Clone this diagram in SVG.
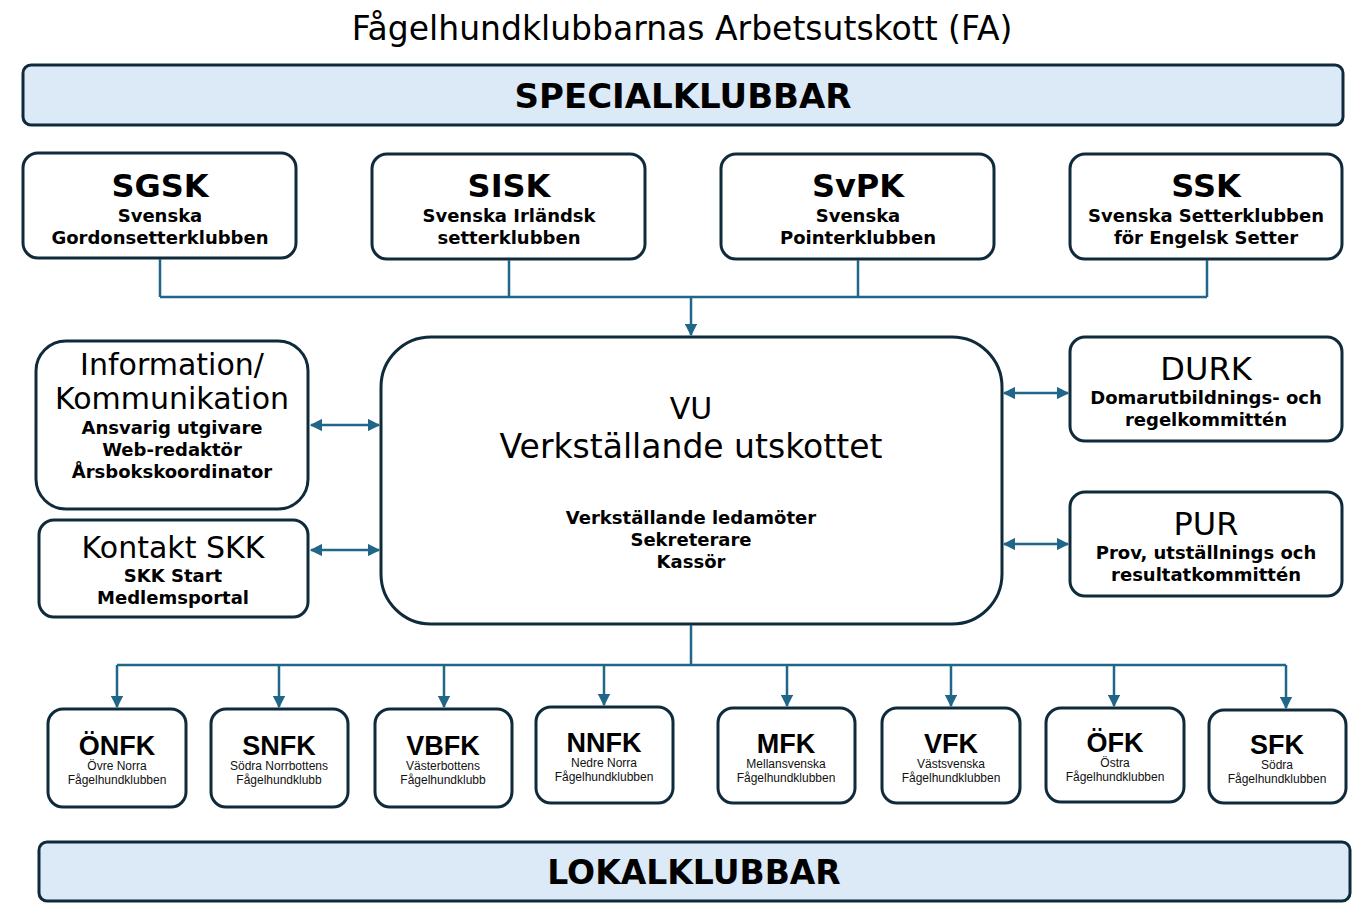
<svg xmlns="http://www.w3.org/2000/svg" width="1361" height="910" viewBox="0 0 1361 910">
<defs>
<style>
.box{fill:#ffffff;stroke:#0e2a3b;stroke-width:3}
.band{fill:#dce9f6;stroke:#0e2a3b;stroke-width:3}
.t{font-family:"DejaVu Sans",Verdana,sans-serif;fill:#000;text-anchor:middle}
.b{font-weight:bold}
.big{font-size:32px}
.mid{font-size:30px}
.sub{font-size:18px;font-weight:bold}
.lt{font-family:"Liberation Sans",Arial,sans-serif;font-weight:bold;font-size:27px;text-anchor:middle;fill:#000}
.ls{font-family:"Liberation Sans",Arial,sans-serif;font-size:12px;text-anchor:middle;fill:#111}
.c{fill:none;stroke:#1f6689;stroke-width:2.5}
</style>
<marker id="ah" viewBox="0 0 10 10" refX="9" refY="5" markerWidth="5" markerHeight="5" orient="auto-start-reverse" markerUnits="strokeWidth">
<path d="M0,0 L10,5 L0,10 z" fill="#1f6689"/>
</marker>
</defs>
<rect width="1361" height="910" fill="#ffffff"/>
<text class="t" x="682" y="40" font-size="33">Fågelhundklubbarnas Arbetsutskott (FA)</text>

<g id="specialklubbar">
<rect class="band" x="23" y="65" width="1320" height="60" rx="8"/>
<text class="t b" font-size="34" x="683" y="108">SPECIALKLUBBAR</text>
</g>

<g id="sgsk">
<rect class="box" x="23" y="153" width="273" height="105" rx="15"/>
<text class="t b big" x="160" y="197">SGSK</text>
<text class="t sub" x="160" y="222">Svenska</text>
<text class="t sub" x="160" y="244">Gordonsetterklubben</text>
</g>
<g id="sisk">
<rect class="box" x="372" y="154" width="273" height="105" rx="15"/>
<text class="t b big" x="509" y="197">SISK</text>
<text class="t sub" x="509" y="222">Svenska Irländsk</text>
<text class="t sub" x="509" y="244">setterklubben</text>
</g>
<g id="svpk">
<rect class="box" x="721" y="154" width="273" height="105" rx="15"/>
<text class="t b big" x="858" y="197">SvPK</text>
<text class="t sub" x="858" y="222">Svenska</text>
<text class="t sub" x="858" y="244">Pointerklubben</text>
</g>
<g id="ssk">
<rect class="box" x="1070" y="154" width="272" height="105" rx="15"/>
<text class="t b big" x="1206" y="197">SSK</text>
<text class="t sub" x="1206" y="222">Svenska Setterklubben</text>
<text class="t sub" x="1206" y="244">för Engelsk Setter</text>
</g>

<g id="info">
<rect class="box" x="36" y="341" width="272" height="168" rx="30"/>
<text class="t mid" x="172" y="375">Information/</text>
<text class="t mid" x="172" y="409">Kommunikation</text>
<text class="t sub" x="172" y="434">Ansvarig utgivare</text>
<text class="t sub" x="172" y="456">Web-redaktör</text>
<text class="t sub" x="172" y="478">Årsbokskoordinator</text>
</g>
<g id="kontakt">
<rect class="box" x="39" y="520" width="269" height="97" rx="15"/>
<text class="t mid" x="173" y="558">Kontakt SKK</text>
<text class="t sub" x="173" y="582">SKK Start</text>
<text class="t sub" x="173" y="604">Medlemsportal</text>
</g>

<g id="vu">
<rect class="box" x="381" y="337" width="621" height="287" rx="50"/>
<text class="t mid" x="691" y="419">VU</text>
<text class="t" font-size="33" x="691" y="458">Verkställande utskottet</text>
<text class="t sub" x="691" y="524">Verkställande ledamöter</text>
<text class="t sub" x="691" y="546">Sekreterare</text>
<text class="t sub" x="691" y="568">Kassör</text>
</g>

<g id="durk">
<rect class="box" x="1070" y="337" width="272" height="104" rx="15"/>
<text class="t big" x="1206" y="380">DURK</text>
<text class="t sub" x="1206" y="404">Domarutbildnings- och</text>
<text class="t sub" x="1206" y="426">regelkommittén</text>
</g>
<g id="pur">
<rect class="box" x="1070" y="492" width="272" height="104" rx="15"/>
<text class="t big" x="1206" y="535">PUR</text>
<text class="t sub" x="1206" y="559">Prov, utställnings och</text>
<text class="t sub" x="1206" y="581">resultatkommittén</text>
</g>

<g id="onfk">
<rect class="box" x="48" y="709" width="138" height="98" rx="15"/>
<text class="lt" x="117" y="755">ÖNFK</text>
<text class="ls" x="117" y="770">Övre Norra</text>
<text class="ls" x="117" y="784">Fågelhundklubben</text>
</g>
<g id="snfk">
<rect class="box" x="211" y="709" width="137" height="98" rx="15"/>
<text class="lt" x="279" y="755">SNFK</text>
<text class="ls" x="279" y="770">Södra Norrbottens</text>
<text class="ls" x="279" y="784">Fågelhundklubb</text>
</g>
<g id="vbfk">
<rect class="box" x="375" y="709" width="137" height="98" rx="15"/>
<text class="lt" x="443" y="755">VBFK</text>
<text class="ls" x="443" y="770">Västerbottens</text>
<text class="ls" x="443" y="784">Fågelhundklubb</text>
</g>
<g id="nnfk">
<rect class="box" x="536" y="707" width="137" height="96" rx="15"/>
<text class="lt" x="604" y="752">NNFK</text>
<text class="ls" x="604" y="767">Nedre Norra</text>
<text class="ls" x="604" y="781">Fågelhundklubben</text>
</g>
<g id="mfk">
<rect class="box" x="718" y="708" width="137" height="95" rx="15"/>
<text class="lt" x="786" y="753">MFK</text>
<text class="ls" x="786" y="768">Mellansvenska</text>
<text class="ls" x="786" y="782">Fågelhundklubben</text>
</g>
<g id="vfk">
<rect class="box" x="882" y="708" width="138" height="95" rx="15"/>
<text class="lt" x="951" y="753">VFK</text>
<text class="ls" x="951" y="768">Västsvenska</text>
<text class="ls" x="951" y="782">Fågelhundklubben</text>
</g>
<g id="ofk">
<rect class="box" x="1046" y="708" width="138" height="94" rx="15"/>
<text class="lt" x="1115" y="752">ÖFK</text>
<text class="ls" x="1115" y="767">Östra</text>
<text class="ls" x="1115" y="781">Fågelhundklubben</text>
</g>
<g id="sfk">
<rect class="box" x="1209" y="710" width="137" height="93" rx="15"/>
<text class="lt" x="1277" y="754">SFK</text>
<text class="ls" x="1277" y="769">Södra</text>
<text class="ls" x="1277" y="783">Fågelhundklubben</text>
</g>

<g id="lokalklubbar">
<rect class="band" x="39" y="842" width="1311" height="59" rx="8"/>
<text class="t b" font-size="33" x="694" y="884">LOKALKLUBBAR</text>
</g>

<g id="connectors">
<path class="c" d="M160,259 V297 M509,260 V297 M858,260 V297 M1207,260 V297 M160,297 H1207"/>
<path class="c" d="M691,297 V335" marker-end="url(#ah)"/>
<path class="c" d="M311,425 H379" marker-start="url(#ah)" marker-end="url(#ah)"/>
<path class="c" d="M311,550 H379" marker-start="url(#ah)" marker-end="url(#ah)"/>
<path class="c" d="M1004,393 H1068" marker-start="url(#ah)" marker-end="url(#ah)"/>
<path class="c" d="M1004,544 H1068" marker-start="url(#ah)" marker-end="url(#ah)"/>
<path class="c" d="M691,625 V665 M117,665 H1286"/>
<path class="c" d="M117,665 V707" marker-end="url(#ah)"/>
<path class="c" d="M279,665 V707" marker-end="url(#ah)"/>
<path class="c" d="M444,665 V707" marker-end="url(#ah)"/>
<path class="c" d="M604,665 V705" marker-end="url(#ah)"/>
<path class="c" d="M787,665 V706" marker-end="url(#ah)"/>
<path class="c" d="M951,665 V706" marker-end="url(#ah)"/>
<path class="c" d="M1114,665 V706" marker-end="url(#ah)"/>
<path class="c" d="M1286,665 V708" marker-end="url(#ah)"/>
</g>
</svg>
